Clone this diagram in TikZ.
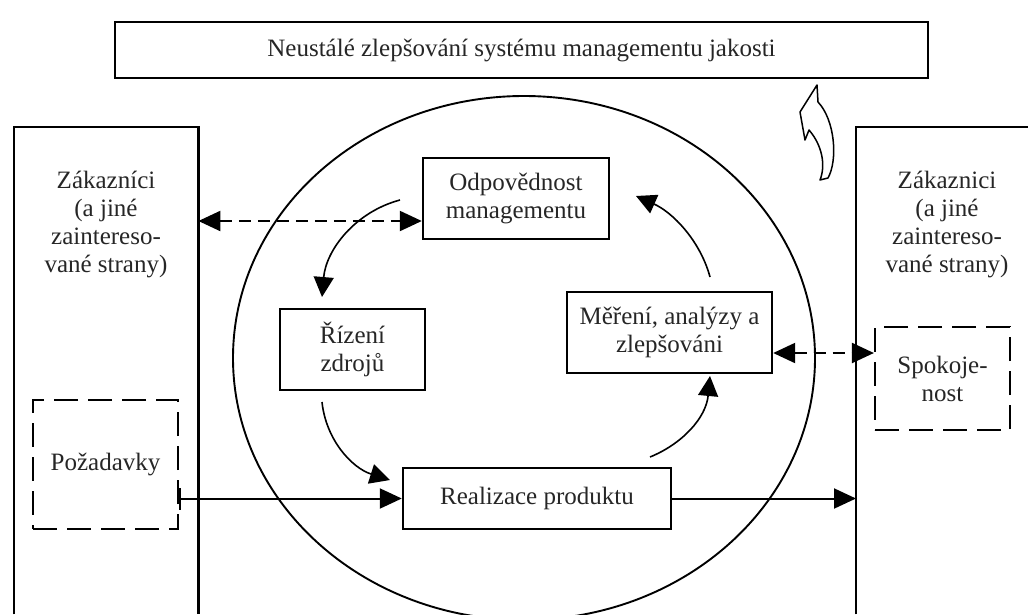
\documentclass[tikz,border=0pt]{standalone}
\usepackage{fontspec}
\setmainfont{Liberation Serif}
\usetikzlibrary{arrows.meta,calc}
\begin{document}
\begin{tikzpicture}[x=1pt,y=-1pt,
  txt/.style={font=\fontsize{25}{28}\selectfont, align=center, text=black!85},
  box/.style={txt, draw, line width=2.4pt, inner sep=0pt},
  dbox/.style={txt, draw, line width=2.2pt, inner sep=0pt, dash pattern=on 24pt off 10pt},
  frame/.style={line width=2.4pt},
  darrow/.style={line width=2.2pt, dash pattern=on 12pt off 7pt, {Triangle[length=22pt,width=20pt]}-{Triangle[length=22pt,width=20pt]}},
  sarrow/.style={line width=2pt, -{Triangle[length=22pt,width=20pt]}},
  carrow/.style={line width=1.6pt, -{Triangle[length=20pt,width=20pt]}},
  oval/.style={line width=1.9pt}
]
\useasboundingbox (0,0) rectangle (1028,614);
% big ellipse
\draw[oval] (524,358) ellipse [x radius=291, y radius=262];
% top box
\node[box, minimum width=813pt, minimum height=56pt] (top) at (521.5,50) {Neustálé zlepšování systému managementu jakosti};
% customer columns
\node[minimum width=184pt, minimum height=487pt, anchor=north west, inner sep=0pt] (cl) at (14,127) {};
\node[minimum width=172pt, minimum height=487pt, anchor=north west, inner sep=0pt] (cr) at (856,127) {};
\draw[frame] (cl.south west) -- (cl.north west) -- (cl.north east) -- (cl.south east);
\draw[frame] (cr.south west) -- (cr.north west) -- (cr.north east);
\node[txt] (cltext) at (106,224) {Zákazníci\\(a jiné\\zaintereso-\\vané strany)};
\node[txt] (crtext) at (947,224) {Zákaznici\\(a jiné\\zaintereso-\\vané strany)};
% inner boxes
\node[box, minimum width=186pt, minimum height=81pt] (odp) at (516,198.5) {Odpovědnost\\managementu};
\node[box, minimum width=145pt, minimum height=81pt] (riz) at (352.5,349.5) {Řízení\\zdrojů};
\node[box, minimum width=205pt, minimum height=81pt] (mer) at (669.5,332.5) {Měření, analýzy a\\zlepšováni};
\node[box, minimum width=268pt, minimum height=61pt] (real) at (537,498.5) {Realizace produktu};
\node[dbox, minimum width=145pt, minimum height=129pt] (poz) at (105.5,464.5) {Požadavky};
\node[dbox, minimum width=135pt, minimum height=103pt] (spok) at (942.5,378.5) {Spokoje-\\nost};
% dashed two-way arrows
\draw[darrow] (cl.east |- 0,221) -- (odp.west |- 0,221);
\draw[darrow] (mer.east |- 0,353) -- (spok.west |- 0,353);
% straight arrows
\draw[sarrow, {Bar[width=22pt,line width=2pt]}-{Triangle[length=22pt,width=20pt]}] (poz.east |- real.west) -- (real.west);
\draw[sarrow] (real.east) -- (real.east -| cr.west);
% cycle arrows
\coordinate (c1s) at (400,200); \coordinate (c1e) at (322,297);
\coordinate (c2s) at (322,402); \coordinate (c2e) at (390,480);
\coordinate (c3s) at (650,457); \coordinate (c3e) at (710,376);
\coordinate (c4s) at (710,277); \coordinate (c4e) at (636,196);
\draw[carrow] (c1s) .. controls (355,212) and (326,250) .. (c1e);
\draw[carrow] (c2s) .. controls (326,440) and (352,468) .. (c2e);
\draw[carrow] (c3s) .. controls (682,444) and (706,418) .. (c3e);
\draw[carrow] (c4s) .. controls (700,240) and (672,212) .. (c4e);
% hollow curved arrow
\draw[line width=1.5pt, fill=white, line join=round] (817,85) -- (800,112) -- (805,140) -- (809,130)
  .. controls (822,145) and (826,165) .. (820,180) -- (828,178)
  .. controls (838,160) and (835,120) .. (818,102) -- cycle;
\end{tikzpicture}
\end{document}
